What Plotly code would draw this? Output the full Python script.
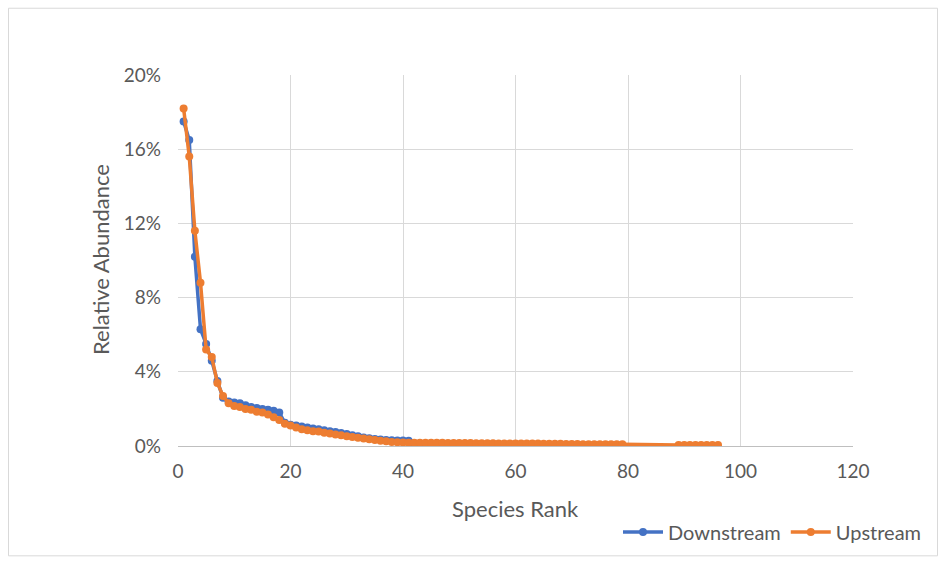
import plotly.graph_objects as go

# Species rank (1 = most abundant) and relative abundance in percent
down_rank = list(range(1, 65))
down_abund = [17.5, 16.5, 10.2, 6.3, 5.5, 4.6, 3.5, 2.6, 2.4, 2.35,
              2.3, 2.2, 2.1, 2.05, 2.0, 1.95, 1.9, 1.8, 1.25, 1.15,
              1.1, 1.05, 1.0, 0.95, 0.9, 0.85, 0.8, 0.75, 0.7, 0.65,
              0.58, 0.52, 0.46, 0.42, 0.38, 0.35, 0.33, 0.31, 0.3, 0.29,
              0.28, 0.15, 0.12, 0.11, 0.1, 0.1, 0.09, 0.09, 0.08, 0.08,
              0.06, 0.06, 0.05, 0.05, 0.05, 0.04, 0.04, 0.04, 0.03, 0.03,
              0.03, 0.02, 0.02, 0.02]

up_rank = list(range(1, 80)) + list(range(89, 97))
up_abund = [18.2, 15.6, 11.6, 8.8, 5.2, 4.8, 3.4, 2.7, 2.3, 2.15,
            2.1, 2.0, 1.95, 1.85, 1.8, 1.7, 1.55, 1.4, 1.2, 1.1,
            1.0, 0.9, 0.85, 0.8, 0.78, 0.72, 0.68, 0.62, 0.58, 0.52,
            0.48, 0.44, 0.4, 0.36, 0.32, 0.28, 0.25, 0.22, 0.2, 0.19,
            0.18, 0.18, 0.18, 0.17, 0.17, 0.17, 0.17, 0.16, 0.16, 0.16,
            0.16, 0.16, 0.15, 0.15, 0.15, 0.15, 0.14, 0.14, 0.14, 0.14,
            0.13, 0.13, 0.13, 0.13, 0.12, 0.12, 0.12, 0.12, 0.11, 0.11,
            0.11, 0.1, 0.1, 0.1, 0.1, 0.09, 0.09, 0.09, 0.09,
            0.05, 0.05, 0.05, 0.05, 0.05, 0.05, 0.05, 0.05]

x_ticks = [0, 20, 40, 60, 80, 100, 120]
y_ticks = [0, 4, 8, 12, 16, 20]
y_tick_text = [f"{v}%" for v in y_ticks]

BLUE = "#4472C4"
ORANGE = "#ED7D31"
TEXT = "#595959"
FONT = "Lato"

W, H = 945, 564
L, R, T, B = 178, 92, 75, 114
pw, ph = W - L - R, H - T - B


def px_x(p):
    return (p - L) / pw


def px_y(p):
    return (H - B - p) / ph


fig = go.Figure()
fig.add_trace(go.Scatter(
    x=down_rank, y=down_abund, name="Downstream", mode="lines+markers",
    line=dict(color=BLUE, width=3.5), marker=dict(color=BLUE, size=8),
))
fig.add_trace(go.Scatter(
    x=up_rank, y=up_abund, name="Upstream", mode="lines+markers",
    line=dict(color=ORANGE, width=3.5), marker=dict(color=ORANGE, size=8),
))

fig.update_layout(
    width=W, height=H,
    margin=dict(l=L, r=R, t=T, b=B),
    paper_bgcolor="white", plot_bgcolor="white",
    font=dict(family=FONT, size=19, color=TEXT),
    showlegend=True,
    legend=dict(orientation="h", x=px_x(618), y=px_y(537),
                xanchor="left", yanchor="middle",
                font=dict(size=20, color=TEXT), itemwidth=40,
                bgcolor="rgba(0,0,0,0)"),
    xaxis=dict(range=[0, 120], tickvals=x_ticks, showgrid=True,
               gridcolor="#d9d9d9", gridwidth=1, zeroline=False,
               showline=True, linecolor="#bfbfbf", linewidth=1,
               ticks="", ticklabelstandoff=8,
               tickfont=dict(size=19, color=TEXT)),
    yaxis=dict(range=[0, 20], tickvals=y_ticks, ticktext=y_tick_text,
               showgrid=True, gridcolor="#d9d9d9", gridwidth=1,
               zeroline=False, showline=False, ticks="",
               ticklabelstandoff=16, tickfont=dict(size=19, color=TEXT)),
    annotations=[
        dict(text="Species Rank", x=px_x(515), y=px_y(513), xref="paper",
             yref="paper", showarrow=False, xanchor="center",
             yanchor="middle", font=dict(size=22, color=TEXT)),
        dict(text="Relative Abundance", x=px_x(100), y=px_y(262),
             xref="paper", yref="paper", showarrow=False, textangle=-90,
             xanchor="center", yanchor="middle",
             font=dict(size=22, color=TEXT)),
    ],
    shapes=[
        dict(type="rect", xref="paper", yref="paper",
             x0=px_x(8.5), x1=px_x(937.5), y0=px_y(561), y1=px_y(7.5),
             line=dict(color="#d9d9d9", width=1), layer="below"),
    ],
)

fig.write_html("out.html")
